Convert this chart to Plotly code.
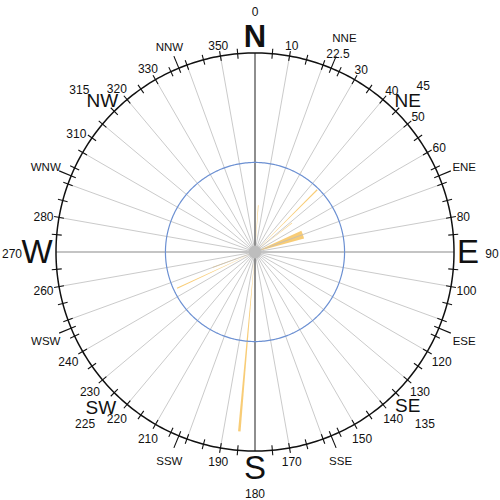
import math
import plotly.graph_objects as go

# ---------------- data ----------------
wind_dir_deg = [4, 45, 52, 70, 185, 245, 250]
wind_value = [2.36, 4.42, 2.36, 2.56, 9.05, 4.32, 2.26]
bin_width_deg = [0.8, 0.8, 0.8, 9.0, 0.8, 0.8, 0.8]

ring_outer = 10.0
ring_inner = 4.5

degree_labels = [10, 30, 40, 50, 60, 80, 100, 120, 130, 140, 150, 170,
                 190, 210, 220, 230, 240, 260, 280, 310, 320, 330, 350]
cardinal_names = ["N", "E", "S", "W"]
cardinal_deg = [0, 90, 180, 270]
inter_names = ["NE", "SE", "SW", "NW"]
inter_deg = [45, 135, 225, 315]
inter_deg_labels = ["45", "135", "225", "315"]
secondary_names = ["NNE", "ENE", "ESE", "SSE", "SSW", "WSW", "WNW", "NNW"]
secondary_deg = [22.5, 67.5, 112.5, 157.5, 202.5, 247.5, 292.5, 337.5]

# ---------------- layout helpers ----------------
PX = 199.0 / ring_outer          # pixels per radial unit
R_PLOT_PX = 245.0
RMAX = R_PLOT_PX / PX
FONT = "Liberation Sans, Arial, sans-serif"
TEXT_DY = 3.0                    # shift texts down a little (px)
LABEL_ANGLE_SHIFT = {310: -6, "315": -2}


def u(px):
    return px / PX


def rc(theta, ra, w, h):
    t = math.radians(theta)
    return ra + w / 2 * abs(math.sin(t)) + h / 2 * abs(math.cos(t))


def place(theta, r_px):
    t = math.radians(theta)
    x = r_px * math.sin(t)
    y = -r_px * math.cos(t) + TEXT_DY
    return u(math.hypot(x, y)), math.degrees(math.atan2(x, -y)) % 360


fig = go.Figure()

# spokes every 10 deg (non-cardinal)
sp_r, sp_t = [], []
for a in range(0, 360, 10):
    if a % 90 == 0:
        continue
    sp_r += [0, ring_outer, None]
    sp_t += [a, a, None]
fig.add_trace(go.Scatterpolar(r=sp_r, theta=sp_t, mode="lines",
                              line=dict(color="#bdbdbd", width=0.8),
                              hoverinfo="skip", showlegend=False))
# E-W line
fig.add_trace(go.Scatterpolar(r=[ring_outer, 0, ring_outer], theta=[90, 0, 270], mode="lines",
                              line=dict(color="#c4c4c4", width=2),
                              hoverinfo="skip", showlegend=False))
# N-S line
fig.add_trace(go.Scatterpolar(r=[ring_outer, 0, ring_outer], theta=[0, 0, 180], mode="lines",
                              line=dict(color="#8e8e8e", width=2),
                              hoverinfo="skip", showlegend=False))

circ_t = list(range(0, 361, 1))
# inner blue ring
fig.add_trace(go.Scatterpolar(r=[ring_inner] * len(circ_t), theta=circ_t, mode="lines",
                              line=dict(color="#6c90d2", width=1.2),
                              hoverinfo="skip", showlegend=False))

# wind bars
fig.add_trace(go.Barpolar(r=wind_value, theta=wind_dir_deg, width=bin_width_deg,
                          marker=dict(color="rgba(246,190,80,0.78)", line=dict(width=0)),
                          hoverinfo="skip", showlegend=False))

# outer ring
fig.add_trace(go.Scatterpolar(r=[ring_outer] * len(circ_t), theta=circ_t, mode="lines",
                              line=dict(color="#111111", width=1.5),
                              hoverinfo="skip", showlegend=False, cliponaxis=False))

# ticks
tk_r, tk_t = [], []
for a in range(0, 360, 5):
    if a % 90 == 0:
        continue
    tk_r += [u(194), u(204), None]
    tk_t += [a, a, None]
for a in secondary_deg:
    tk_r += [u(194), u(212), None]
    tk_t += [a, a, None]
fig.add_trace(go.Scatterpolar(r=tk_r, theta=tk_t, mode="lines",
                              line=dict(color="#111111", width=1.1),
                              hoverinfo="skip", showlegend=False, cliponaxis=False))

# center disc
fig.add_trace(go.Scatterpolar(r=[0], theta=[0], mode="markers",
                              marker=dict(size=13, color="#bdbdbd"),
                              hoverinfo="skip", showlegend=False))


def add_text(texts, thetas, radii, size, bold=False):
    pts = [place(t, r) for t, r in zip(thetas, radii)]
    fig.add_trace(go.Scatterpolar(
        r=[p[0] for p in pts], theta=[p[1] for p in pts], mode="text",
        text=[f"<b>{t}</b>" if bold else t for t in texts],
        textposition="middle center",
        textfont=dict(family=FONT, size=size, color="#111111"),
        hoverinfo="skip", showlegend=False, cliponaxis=False))


# degree numbers
num_theta = [d + LABEL_ANGLE_SHIFT.get(d, 0) for d in degree_labels]
add_text([str(d) for d in degree_labels], num_theta,
         [rc(d, 204, 6.6 * len(str(d)), 12) for d in degree_labels], 12)
# cardinal letters
add_text(["N"], [0], [216], 31, bold=True)
add_text(["E", "S", "W"], [90, 180, 270], [213, 216, 218], 33)
add_text(["0", "90", "180", "270"], cardinal_deg, [242, 237, 240, 243], 12)
# intercardinals
add_text(inter_names, inter_deg, [216, 216, 218, 216], 19)
add_text(inter_deg_labels, [d + LABEL_ANGLE_SHIFT.get(s, 0) for d, s in zip(inter_deg, inter_deg_labels)],
         [rc(d, 229, 6.6 * len(s), 12) for d, s in zip(inter_deg, inter_deg_labels)], 12)
# secondary
sec_r = [rc(d, 224 if d == 22.5 else 214, 22, 12) for d in secondary_deg]
add_text(secondary_names, secondary_deg, sec_r, 11.5)
add_text(["22.5"], [22.5], [rc(22.5, 207, 22, 12)], 12)

# polar centre placed at (255, 252) of the figure
fig.update_layout(
    width=500, height=500,
    margin=dict(l=0, r=0, t=0, b=0),
    paper_bgcolor="white",
    showlegend=False,
    polar=dict(
        domain=dict(x=[10 / 500, 1.0], y=[0.0, 496 / 500]),
        bgcolor="white",
        bargap=0,
        angularaxis=dict(rotation=90, direction="clockwise", showline=False,
                         showgrid=False, showticklabels=False, ticks=""),
        radialaxis=dict(visible=False, range=[0, RMAX], showgrid=False),
    ),
)

fig.write_html("out.html", config={"displayModeBar": False},
               post_script="document.body.style.margin='0px';")
